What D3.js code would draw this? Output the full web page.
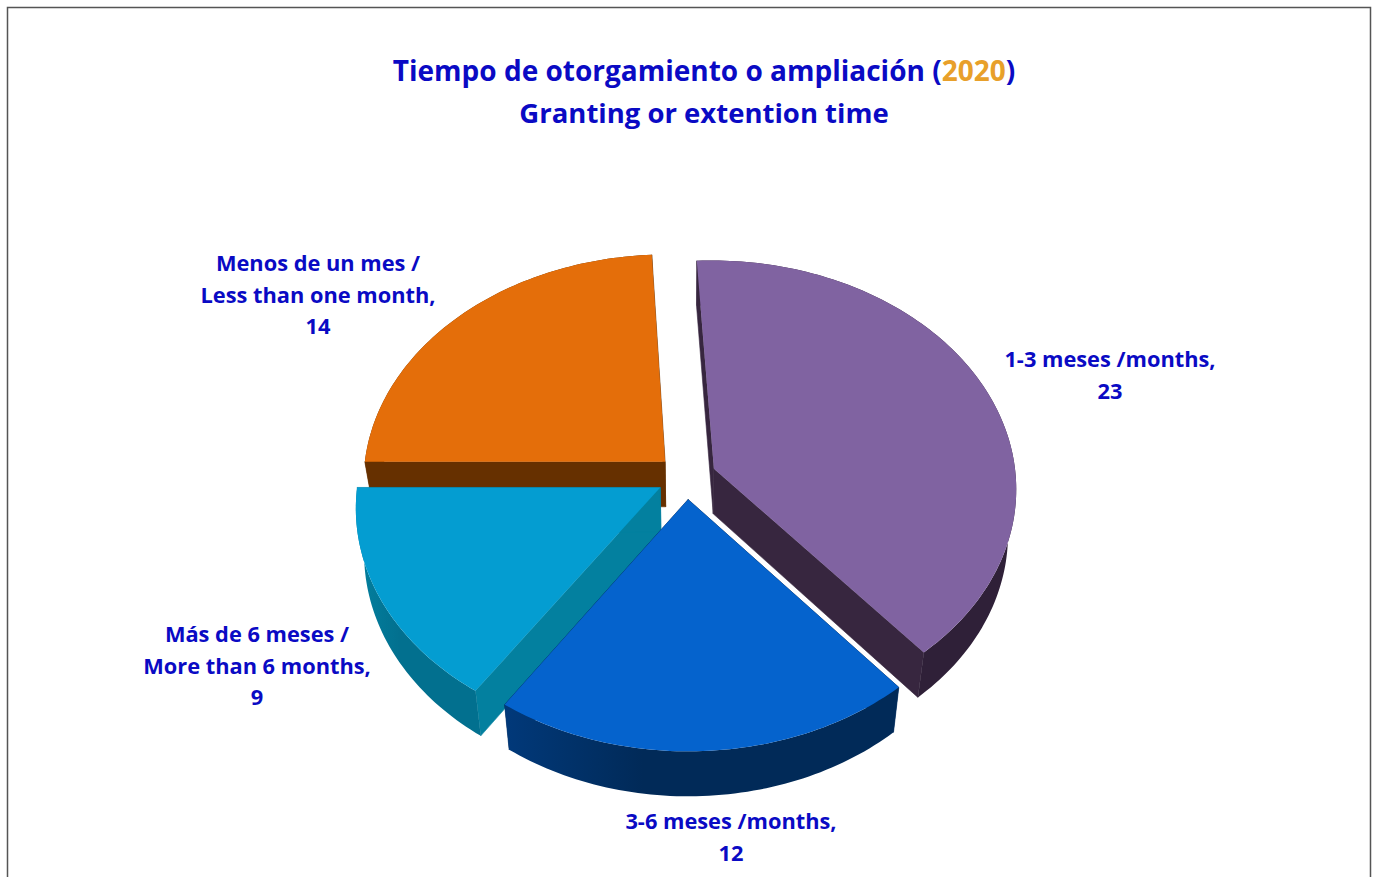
<!DOCTYPE html>
<html>
<head>
<meta charset="utf-8">
<title>Tiempo de otorgamiento o ampliación (2020)</title>
<script src="https://cdn.jsdelivr.net/npm/d3@7"></script>
<style>
  html, body { margin: 0; padding: 0; background: #fff; overflow: hidden; }
  svg { display: block; }
  text { font-family: "Open Sans", Lato, sans-serif; font-weight: 700; }
</style>
</head>
<body>
<svg id="vis" width="1377" height="877"></svg>
<script>
// data, clockwise starting from the top
var categories = ["1-3 meses /months", "3-6 meses /months", "Más de 6 meses / More than 6 months", "Menos de un mes / Less than one month"];
var values = [23, 12, 9, 14];
var labelLines = [
  ["1-3 meses /months,", "23"],
  ["3-6 meses /months,", "12"],
  ["Más de 6 meses /", "More than 6 months,", "9"],
  ["Menos de un mes /", "Less than one month,", "14"]
];
var titleLine1 = ["Tiempo de otorgamiento o ampliación (", "2020", ")"];
var titleLine2 = "Granting or extention time";

// styles per slice
var topColors = ["#8063a1", "#0563cd", "#049dd1", "#e46e0a"];
var wallColors = ["#37263f", "#012c60", "#03809f", "#663000"];
var arcWallLeft = ["#37263f", "#01397a", "#03809f", "#663000"];
var arcWallRight = ["#2f2038", "#012a58", "#02708f", "#663000"];
var labelPos = [[1110, 367], [731, 829], [257, 642], [318, 271]];
var drawOrder = [3, 0, 2, 1]; // back to front

var W = 1377, H = 877;
var cx = 686.5, cy = 477;
var rx = 302, ry = 227;   // radius on screen before perspective
var persp = 12;           // front of the pie is closer, so bigger
var depth = 45;           // thickness
var squeeze = 0.975;      // bottom face is slightly narrower
var explode = 0.098;
var blue = "#0a0ac4";

var svg = d3.select("#vis");
var defs = svg.append("defs");

// frame of the screenshot
svg.append("path").attr("d", "M7.5," + H + "V7.5H1370.5V" + H).attr("fill", "none").attr("stroke", "#555").attr("stroke-width", 1.5);

function project(u, v, z) {
  var s = persp / (persp - v);
  var k = z ? squeeze : 1;
  return [cx + rx * u * s * k, cy + ry * v * s + (z ? depth : 0)];
}

var startDeg = -3.1;
var pie = d3.pie().sort(null).startAngle(startDeg / 180 * Math.PI).endAngle((360 + startDeg) / 180 * Math.PI);
var arcs = pie(values);
var line = d3.line();

function slicePoint(d, a, r, z) {
  var b = (d.startAngle + d.endAngle) / 2;
  return project(explode * Math.sin(b) + r * Math.sin(a), -explode * Math.cos(b) - r * Math.cos(a), z);
}

function arcPoints(d, z) {
  var n = Math.ceil((d.endAngle - d.startAngle) / 0.02);
  return d3.range(n + 1).map(function (i) {
    return slicePoint(d, d.startAngle + (d.endAngle - d.startAngle) * i / n, 1, z);
  });
}

arcs.forEach(function (d, i) {
  var pts = arcPoints(d, 0).concat(arcPoints(d, 1));
  var grad = defs.append("linearGradient").attr("id", "wall" + i)
    .attr("gradientUnits", "userSpaceOnUse")
    .attr("x1", d3.min(pts, function (p) { return p[0]; })).attr("y1", 0)
    .attr("x2", d3.max(pts, function (p) { return p[0]; })).attr("y2", 0);
  grad.append("stop").attr("offset", "0").attr("stop-color", arcWallLeft[i]);
  grad.append("stop").attr("offset", "0.35").attr("stop-color", arcWallRight[i]);
  grad.append("stop").attr("offset", "1").attr("stop-color", arcWallRight[i]);
});

var slices = svg.selectAll("g.slice").data(drawOrder).enter().append("g").attr("class", "slice")
  .attr("data-category", function (i) { return categories[i]; });

slices.each(function (i) {
  var d = arcs[i], g = d3.select(this);
  var top = arcPoints(d, 0), bot = arcPoints(d, 1);
  var apexTop = slicePoint(d, d.startAngle, 0, 0), apexBot = slicePoint(d, d.startAngle, 0, 1);

  // the two flat walls
  [top[0], top[top.length - 1]].forEach(function (p, k) {
    var q = k ? bot[bot.length - 1] : bot[0];
    g.append("path").attr("d", line([apexTop, p, q, apexBot]) + "Z")
      .attr("fill", wallColors[i]).attr("stroke", wallColors[i]).attr("stroke-width", 0.6);
  });
  // round wall
  g.append("path").attr("d", line(top.concat(bot.slice().reverse())) + "Z").attr("fill", "url(#wall" + i + ")");
  // top face
  g.append("path").attr("d", line([apexTop].concat(top)) + "Z").attr("fill", topColors[i]);
});

// title
var t1 = svg.append("text").attr("x", 704).attr("y", 81).attr("text-anchor", "middle").attr("font-size", 28).attr("fill", blue);
t1.selectAll("tspan").data(titleLine1).enter().append("tspan")
  .attr("fill", function (d, i) { return i == 1 ? "#e8a02a" : blue; })
  .text(function (d) { return d; });
svg.append("text").attr("x", 704).attr("y", 123).attr("text-anchor", "middle").attr("font-size", 27.5).attr("fill", blue).text(titleLine2);

// data labels
labelLines.forEach(function (lines, i) {
  var lab = svg.append("text").attr("text-anchor", "middle").attr("font-size", 21.8).attr("fill", blue);
  lab.selectAll("tspan").data(lines).enter().append("tspan")
    .attr("x", labelPos[i][0])
    .attr("y", function (d, k) { return labelPos[i][1] + k * 31.5; })
    .text(function (d) { return d; });
});
</script>
</body>
</html>
